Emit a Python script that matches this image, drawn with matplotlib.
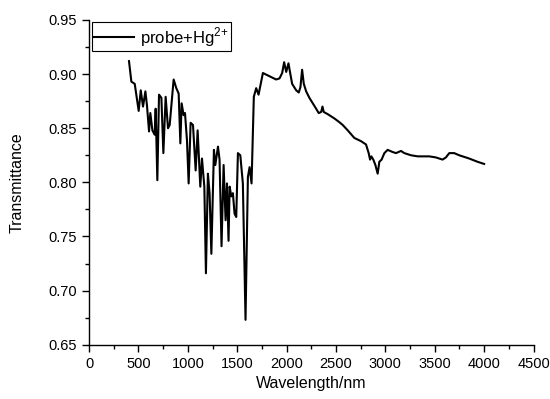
import numpy as np
import matplotlib
matplotlib.use('Agg')
import matplotlib.pyplot as plt
from matplotlib.ticker import MultipleLocator

plt.rcParams['font.family'] = ['Liberation Sans', 'DejaVu Sans']
plt.rcParams['mathtext.fontset'] = 'custom'
plt.rcParams['mathtext.rm'] = 'Liberation Sans'

# spectrum
wavelength = [404, 428, 462, 502, 523, 546, 570, 586, 607, 620, 641, 664, 674, 691, 708,
              732, 752, 775, 799, 816, 856, 883, 907, 924, 937, 957, 971, 991, 1008, 1028,
              1052, 1079, 1099, 1126, 1143, 1167, 1183, 1203, 1220, 1238, 1264, 1278, 1305,
              1321, 1341, 1362, 1382, 1396, 1412, 1423, 1440, 1456, 1473, 1490, 1507, 1531,
              1557, 1584, 1608, 1625, 1645, 1668, 1692, 1716, 1760, 1827, 1894, 1928, 1955,
              1975, 1996, 2019, 2036, 2056, 2097, 2123, 2140, 2157, 2174, 2198, 2231, 2265,
              2299, 2325, 2350, 2363, 2376, 2416, 2484, 2528, 2568, 2619, 2686, 2754, 2804,
              2831, 2845, 2858, 2878, 2899, 2922, 2939, 2962, 2990, 3023, 3074, 3108, 3158,
              3192, 3260, 3327, 3445, 3512, 3579, 3613, 3647, 3697, 3748, 3849, 3933, 4000]
transmittance = [0.912, 0.893, 0.891, 0.866, 0.885, 0.870, 0.884, 0.871, 0.847, 0.864,
                 0.848, 0.844, 0.868, 0.802, 0.881, 0.878, 0.827, 0.879, 0.850, 0.853,
                 0.895, 0.887, 0.882, 0.836, 0.873, 0.862, 0.864, 0.839, 0.799, 0.855,
                 0.853, 0.811, 0.848, 0.796, 0.822, 0.796, 0.716, 0.808, 0.790, 0.734,
                 0.830, 0.816, 0.833, 0.821, 0.741, 0.816, 0.765, 0.799, 0.746, 0.796,
                 0.787, 0.790, 0.771, 0.768, 0.827, 0.825, 0.799, 0.673, 0.805, 0.814,
                 0.799, 0.879, 0.887, 0.881, 0.901, 0.898, 0.895, 0.896, 0.901, 0.911,
                 0.902, 0.910, 0.901, 0.891, 0.885, 0.883, 0.888, 0.904, 0.891, 0.884,
                 0.878, 0.873, 0.868, 0.864, 0.865, 0.870, 0.865, 0.863, 0.859, 0.856,
                 0.853, 0.848, 0.841, 0.838, 0.835, 0.827, 0.821, 0.824, 0.821, 0.816,
                 0.808, 0.819, 0.821, 0.827, 0.830, 0.828, 0.827, 0.829, 0.827, 0.825,
                 0.824, 0.824, 0.823, 0.821, 0.823, 0.827, 0.827, 0.825, 0.822, 0.819,
                 0.817]

fig = plt.figure(figsize=(5.5, 3.99), dpi=100)
ax = fig.add_axes([0.162, 0.136, 0.808, 0.814])

ax.plot(wavelength, transmittance, color='black', lw=1.5, label='probe+Hg$^{2{+}}$')

ax.set_xlim(0, 4500)
ax.set_ylim(0.65, 0.95)
ax.xaxis.set_major_locator(MultipleLocator(500))
ax.xaxis.set_minor_locator(MultipleLocator(250))
ax.yaxis.set_major_locator(MultipleLocator(0.05))
ax.yaxis.set_minor_locator(MultipleLocator(0.025))
ax.yaxis.set_major_formatter(plt.FormatStrFormatter('%.2f'))

ax.spines['top'].set_visible(False)
ax.spines['right'].set_visible(False)
for s in ['left', 'bottom']:
    ax.spines[s].set_linewidth(1.0)
ax.tick_params(which='major', direction='out', length=5, width=1, labelsize=10.5)
ax.tick_params(which='minor', direction='out', length=3, width=1)

ax.set_xlabel('Wavelength/nm', fontsize=11.5, labelpad=4)
ax.set_ylabel('Transmittance', fontsize=11.5, labelpad=17)

leg = ax.legend(loc='upper left', fontsize=12, frameon=True, fancybox=False,
                edgecolor='black', framealpha=1, borderaxespad=0.15, borderpad=0.15,
                handlelength=2.4, handletextpad=0.35)
leg.get_frame().set_linewidth(0.8)

fig.savefig('out.png', dpi=100)
